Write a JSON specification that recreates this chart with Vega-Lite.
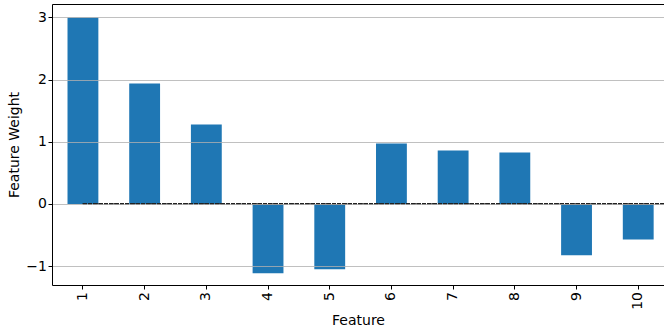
{
  "$schema": "https://vega.github.io/schema/vega-lite/v6.json",
  "autosize": {"type": "none"},
  "padding": {"left": 52, "top": 4, "right": 0, "bottom": 46},
  "width": 612,
  "height": 281,
  "config": {
    "font": "DejaVu Sans",
    "view": {"stroke": null},
    "axis": {
      "labelFont": "DejaVu Sans",
      "titleFont": "DejaVu Sans",
      "labelFontSize": 14,
      "titleFontSize": 14,
      "titleFontWeight": "normal",
      "labelColor": "#000000",
      "titleColor": "#000000",
      "domainColor": "#000000",
      "tickColor": "#000000",
      "domainWidth": 1,
      "tickWidth": 1,
      "tickSize": 4
    }
  },
  "data": {
    "values": [
      {"feature": "1", "weight": 3.0},
      {"feature": "2", "weight": 1.937},
      {"feature": "3", "weight": 1.278},
      {"feature": "4", "weight": -1.117},
      {"feature": "5", "weight": -1.053},
      {"feature": "6", "weight": 0.973},
      {"feature": "7", "weight": 0.86},
      {"feature": "8", "weight": 0.828},
      {"feature": "9", "weight": -0.828},
      {"feature": "10", "weight": -0.571}
    ]
  },
  "resolve": {"axis": {"x": "independent"}},
  "layer": [
    {
      "mark": {"type": "bar", "color": "#1f77b4"},
      "encoding": {
        "x": {
          "field": "feature",
          "type": "ordinal",
          "sort": null,
          "scale": {"paddingInner": 0.5, "paddingOuter": 0.2095, "align": 0.6},
          "axis": {
            "title": "Feature",
            "labelAngle": -90,
            "labelPadding": 2.5,
            "titlePadding": 4,
            "grid": false
          }
        },
        "y": {
          "field": "weight",
          "type": "quantitative",
          "scale": {"domain": [-1.305, 3.217], "nice": false, "zero": false},
          "axis": {
            "title": "Feature Weight",
            "values": [-1, 0, 1, 2, 3],
            "format": "d",
            "grid": true,
            "gridColor": "#b0b0b0",
            "gridWidth": 0.8,
            "labelPadding": 1.5,
            "titlePadding": 4,
            "zindex": 1
          }
        }
      }
    },
    {
      "mark": {"type": "rule", "color": "#222222", "strokeDash": [3.7, 1.6], "strokeWidth": 1.2},
      "encoding": {
        "x": {
          "datum": "1",
          "type": "ordinal",
          "bandPosition": 0.5,
          "axis": {
            "orient": "top",
            "labels": false,
            "ticks": false,
            "title": null,
            "grid": false
          }
        },
        "x2": {"value": "width"},
        "y": {"datum": 0, "type": "quantitative"}
      }
    }
  ]
}
